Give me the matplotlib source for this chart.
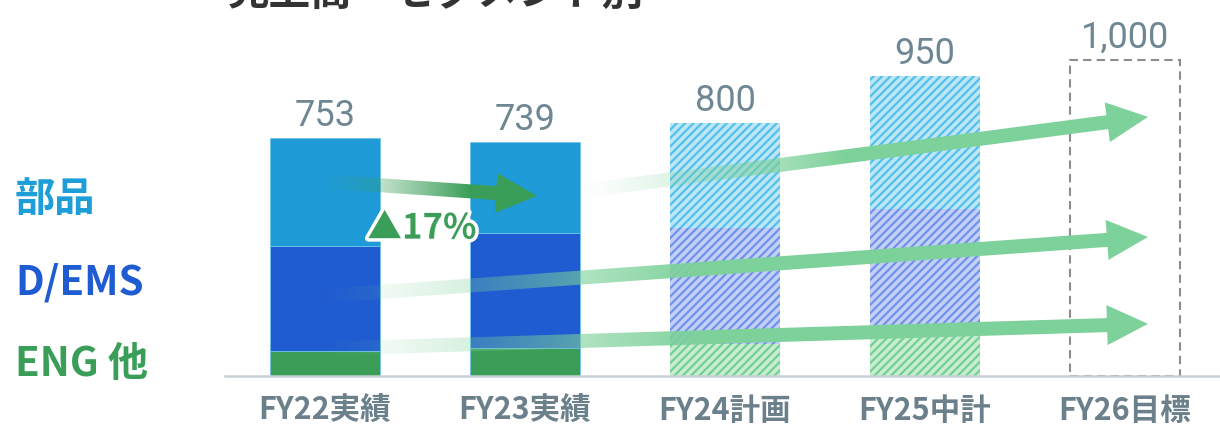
import numpy as np
import matplotlib
matplotlib.use("Agg")
import matplotlib.pyplot as plt
import matplotlib.patheffects as pe
from matplotlib.patches import Polygon
from matplotlib.colors import to_rgb

# data
years = ['FY22実績', 'FY23実績', 'FY24計画', 'FY25中計', 'FY26目標']
eng = [79, 88, 101, 126]
dems = [332, 366, 367, 402]
parts = [342, 285, 332, 422]
totals = [753, 739, 800, 950, 1000]
plan_idx = [2, 3]          # hatched (plan) bars
target = 1000              # FY26 dashed box

segments = ['部品', 'D/EMS', 'ENG 他']
seg_y = [563, 297, 38]

# arrows: (x0, y0, x1, y1, color, fade start, fade end)
arrows = [
    (1.275, 585, 4.115, 820, '#7DD19A', 1.275, 2.6),
    (-0.075, 250, 4.115, 440, '#7DD19A', -0.075, 1.9),
    (-0.075, 85, 4.115, 165, '#7DD19A', -0.075, 1.9),
    (-0.035, 617, 1.06, 570, '#3A9E58', -0.035, 0.72),
]

plt.rcParams['hatch.linewidth'] = 1.6
jp = ['Noto Sans CJK JP', 'DejaVu Sans']

fig = plt.figure(figsize=(12.2, 4.27), dpi=100)
ax = fig.add_axes([0, 0, 1, 1])
ax.set_xlim(-1.625, 4.475)
ax.set_ylim(-158.2, 1193)
ax.axis('off')

x = np.arange(len(years))
w = 0.55

solid = ['#3A9E58', '#1F5BD1', '#1E9BD7']
pale = ['#C8EDD3', '#C3CFF5', '#BDE6F7']
hatchc = ['#74D08F', '#6F93EC', '#55C0EC']

for i in range(4):
    vals = [eng[i], dems[i], parts[i]]
    bottom = 0
    for k, v in enumerate(vals):
        if i in plan_idx:
            ax.bar(x[i], v, bottom=bottom, width=w, color=pale[k],
                   edgecolor=hatchc[k], hatch='////', linewidth=0, zorder=2)
        else:
            ax.bar(x[i], v, bottom=bottom, width=w, color=solid[k],
                   edgecolor='#6FC3EA', linewidth=0.6, zorder=2)
        bottom += v

# target box
ax.bar(x[4], target, width=w, fill=False, edgecolor='#8C8C8C',
       linestyle=(0, (4, 2.5)), linewidth=1.5, zorder=2)

# base line
ax.plot([-0.5, 4.475], [0, 0], color='#C9D1D5', lw=1.8, zorder=3)

# value labels
for xi, v in zip(x, totals):
    ax.annotate(f'{v:,}', (xi, v), xytext=(0, 9.5), textcoords='offset points',
                ha='center', va='baseline', fontsize=26, color='#6E8792',
                family='Roboto', fontweight='normal')

# category labels
for xi, lab in zip(x, years):
    ax.text(xi, -108, lab, ha='center', va='center', fontsize=22,
            fontweight='bold', color='#6B808B', family=jp)

# segment labels
for lab, yy, c in zip(segments, seg_y, ['#1E9ED8', '#1F5BD1', '#3A9E58']):
    ax.text(-1.55, yy, lab, ha='left', va='center', fontsize=29,
            fontweight='bold', color=c, family=jp)


def grad_arrow(x0, y0, x1, y1, color, f0, f1, shaft=14, head_len=41, head_w=40):
    p0 = ax.transData.transform((x0, y0))
    p1 = ax.transData.transform((x1, y1))
    d = p1 - p0
    u = d / np.hypot(*d)
    n = np.array([-u[1], u[0]])
    b = p1 - u * head_len
    pts = [p0 + n * shaft / 2, b + n * shaft / 2, b + n * head_w / 2, p1,
           b - n * head_w / 2, b - n * shaft / 2, p0 - n * shaft / 2]
    pd = ax.transData.inverted().transform(np.array(pts))
    poly = Polygon(pd, closed=True, facecolor='none', edgecolor='none')
    ax.add_patch(poly)
    xmin, xmax = pd[:, 0].min(), pd[:, 0].max()
    ymin, ymax = pd[:, 1].min(), pd[:, 1].max()
    xs = np.linspace(xmin, xmax, 500)
    a = np.clip((xs - f0) / (f1 - f0), 0, 1) ** 1.3
    img = np.zeros((1, 500, 4))
    img[..., :3] = to_rgb(color)
    img[0, :, 3] = a
    im = ax.imshow(img, extent=[xmin, xmax, ymin, ymax], aspect='auto',
                   interpolation='bilinear', zorder=5)
    im.set_clip_path(poly)


for a in arrows:
    grad_arrow(*a)

ax.text(0.485, 468, '▲17%', ha='center', va='center', fontsize=25,
        fontweight='bold', color='#3A9E58', family=jp, zorder=6,
        path_effects=[pe.withStroke(linewidth=5, foreground='white')])

# title (cut off at the top in the original)
fig.text(228 / 1220, 1 - 6 / 427, '売上高・セグメント別', fontsize=30,
         fontweight='bold', color='#333333', va='baseline', family=jp)

ax.set_xlim(-1.625, 4.475)
ax.set_ylim(-158.2, 1193)
fig.savefig('out.png', dpi=100)
